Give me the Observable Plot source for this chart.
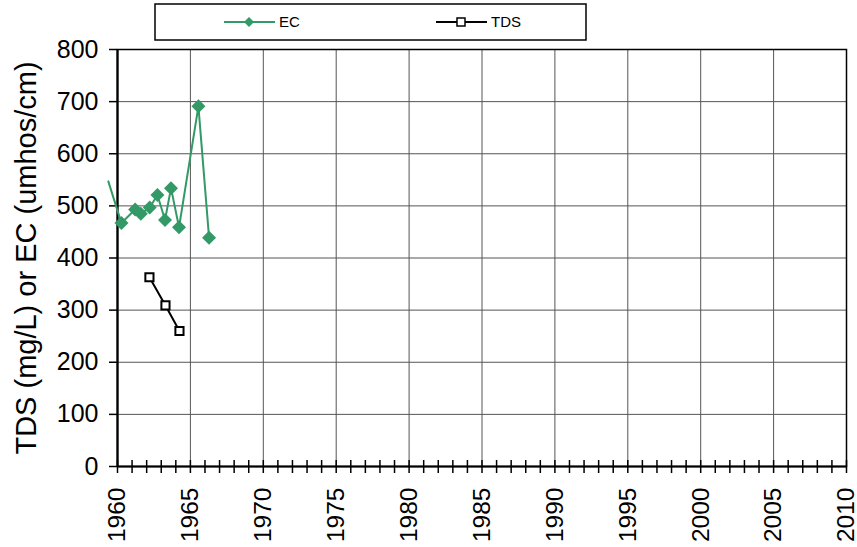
<!DOCTYPE html>
<html>
<head>
<meta charset="utf-8">
<script src="https://cdn.jsdelivr.net/npm/d3@7"></script>
<script src="https://cdn.jsdelivr.net/npm/@observablehq/plot@0.6"></script>
<style>
  body { margin: 0; background: white; font-family: "Liberation Sans", Arial, sans-serif; }
  #chart svg { display: block; }
</style>
</head>
<body>
<div id="legend"></div>
<div id="chart"></div>
<script>
// ---- data ----
const seriesNames = ["EC", "TDS"];
const seriesColors = ["#339966", "#000000"];

// EC: first point is the off-chart lead-in of the line (no marker shown)
const ecYears  = [1959.37, 1960.27, 1961.21, 1961.60, 1962.21, 1962.74, 1963.26, 1963.67, 1964.22, 1965.55, 1966.28];
const ecValues = [547,     467,     493,     485,     497,     521,     473,     534,     459,     691,     439];

const tdsYears  = [1962.19, 1963.29, 1964.25];
const tdsValues = [363,     309,     260];

const yTicks = [0, 100, 200, 300, 400, 500, 600, 700, 800];
const xTicks = d3.range(1960, 2011, 1);
const xGrid = d3.range(1965, 2011, 5);
const yTitle = "TDS (mg/L) or EC (umhos/cm)";

const ec = ecYears.map((x, i) => ({x, y: ecValues[i], marker: x >= 1960}));
const tds = tdsYears.map((x, i) => ({x, y: tdsValues[i]}));

// ---- legend (above the SVG) ----
const font = "'Liberation Sans', Arial, sans-serif";
const lg = d3.select("#legend").append("svg").attr("width", 857).attr("height", 45).style("display", "block");
lg.append("rect").attr("x", 155).attr("y", 4).attr("width", 431).attr("height", 36)
  .attr("fill", "white").attr("stroke", "black").attr("stroke-width", 1.5);
const itemX = [224, 436];
seriesNames.forEach((name, i) => {
  const g = lg.append("g").attr("transform", `translate(${itemX[i]},22)`);
  g.append("line").attr("x1", 0).attr("x2", 51).attr("stroke", seriesColors[i]).attr("stroke-width", 2);
  if (i === 0) {
    g.append("path").attr("d", "M25,-5L30,0L25,5L20,0Z").attr("fill", seriesColors[i]);
  } else {
    g.append("rect").attr("x", 21).attr("y", -4).attr("width", 8).attr("height", 8)
      .attr("fill", "white").attr("stroke", "black").attr("stroke-width", 1.5);
  }
  g.append("text").attr("x", 55).attr("y", 0).attr("dy", "0.35em")
    .attr("font-family", font).attr("font-size", 15).text(name);
});

// ---- chart ----
const chart = Plot.plot({
  width: 857,
  height: 502,
  marginLeft: 117,
  marginRight: 11,
  marginTop: 4,
  marginBottom: 81,
  x: {domain: [1960, 2010]},
  y: {domain: [0, 800]},
  style: {fontFamily: font, fontSize: "25px", color: "black", background: "white", overflow: "visible"},
  marks: [
    Plot.ruleY(yTicks.filter(d => d > 0 && d < 800), {stroke: "#555", strokeWidth: 1}),
    Plot.ruleX(xGrid.filter(d => d < 2010), {stroke: "#555", strokeWidth: 1}),
    Plot.frame({stroke: "black", strokeWidth: 1.5}),
    Plot.ruleX([1960], {stroke: "black", strokeWidth: 2.2}),
    Plot.ruleY([0], {stroke: "black", strokeWidth: 2.2}),
    // upper half of the crossing year ticks
    Plot.ruleX(xTicks, {x: d => d, y1: () => 0, y2: () => 0, insetTop: -6, stroke: "black", strokeWidth: 1.5}),
    Plot.axisX({ticks: xTicks, tickSize: 7, tickPadding: 14, tickRotate: -90, fontSize: 24.5,
      tickFormat: d => (d % 5 === 0 ? String(d) : ""), label: null, strokeWidth: 1.5}),
    Plot.axisY({ticks: yTicks, tickSize: 8, tickPadding: 11, fontSize: 25,
      tickFormat: d => String(d), label: null, strokeWidth: 1.5}),
    Plot.text([yTitle], {text: d => d, frameAnchor: "left", textAnchor: "middle", rotate: -90, dx: -91, fontSize: 29}),
    Plot.line(ec, {x: "x", y: "y", stroke: seriesColors[0], strokeWidth: 2}),
    Plot.dot(ec.filter(d => d.marker), {x: "x", y: "y", symbol: "diamond2", r: 6.3, fill: seriesColors[0], stroke: "none"}),
    Plot.line(tds, {x: "x", y: "y", stroke: seriesColors[1], strokeWidth: 2}),
    Plot.dot(tds, {x: "x", y: "y", symbol: "square", r: 4.6, fill: "white", stroke: "black", strokeWidth: 2})
  ]
});
document.getElementById("chart").appendChild(chart);
</script>
</body>
</html>
